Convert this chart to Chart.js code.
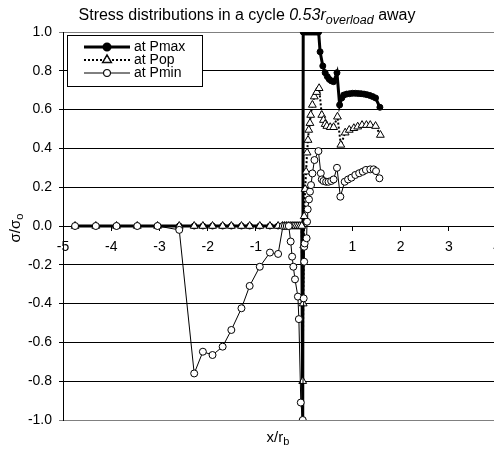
<!DOCTYPE html>
<html>
<head>
<meta charset="utf-8">
<script src="https://cdn.jsdelivr.net/npm/chart.js@4.4.0/dist/chart.umd.min.js"></script>
<style>
  html, body { margin: 0; padding: 0; background: #fff; overflow: hidden; }
  #wrap { width: 494px; height: 450px; overflow: hidden; }
</style>
</head>
<body>
<div id="wrap"><canvas id="chart" width="510" height="450"></canvas></div>
<script>
/* Stress distributions - sigma/sigma_o vs x/r_b */

const xTicks = [-5, -4, -3, -2, -1, 0, 1, 2, 3, 4];
const yTicks = [-1.0, -0.8, -0.6, -0.4, -0.2, 0.0, 0.2, 0.4, 0.6, 0.8, 1.0];

const zeroX = [-4.75, -4.32, -3.89, -3.46, -3.04, -2.59, -2.28, -2.10, -1.90, -1.69,
  -1.51, -1.30, -1.13, -0.92, -0.71, -0.54, -0.45, -0.41, -0.37, -0.33,
  -0.29, -0.25, -0.21, -0.17, -0.13, -0.09, -0.05];

// at Pmax
const pmaxX = zeroX.concat([-0.03, -0.02, 0.01, 0.04, 0.07, 0.10, 0.13, 0.16, 0.19, 0.22, 0.25, 0.28, 0.30,
  0.33, 0.386, 0.435, 0.48, 0.52, 0.565, 0.61, 0.68, 0.735, 0.78, 0.82, 0.88, 0.94, 1.00,
  1.06, 1.12, 1.18, 1.24, 1.30, 1.36, 1.42, 1.48, 1.57]);
const pmaxY = zeroX.map(() => 0).concat([-1.0, 1.0, 1.0, 1.0, 1.0, 1.0, 1.0, 1.0, 1.0, 1.0, 1.0, 1.0, 1.0,
  0.898, 0.825, 0.79, 0.77, 0.756, 0.748, 0.744, 0.79, 0.624, 0.66, 0.675, 0.68, 0.682, 0.684,
  0.684, 0.683, 0.682, 0.68, 0.677, 0.673, 0.667, 0.66, 0.612]);

// at Pop
const popX = zeroX.concat([-0.03, -0.02, -0.01, 0.0, 0.02, 0.04, 0.06, 0.08, 0.095, 0.12, 0.135, 0.17,
  0.21, 0.26, 0.31, 0.365, 0.40, 0.435, 0.47, 0.54, 0.61, 0.69, 0.76, 0.85, 0.935, 1.03,
  1.11, 1.20, 1.29, 1.37, 1.48, 1.58]);
const popY = zeroX.map(() => 0).concat([-0.8, -0.4, -0.1, 0.05, 0.19, 0.28, 0.378, 0.443, 0.495, 0.53, 0.572, 0.624,
  0.667, 0.69, 0.71, 0.572, 0.546, 0.525, 0.515, 0.509, 0.509, 0.563, 0.418, 0.481, 0.495, 0.504,
  0.512, 0.52, 0.52, 0.52, 0.515, 0.469]);

// at Pmin
const pminX = [-4.75, -4.32, -3.89, -3.46, -3.04, -2.59, -2.28, -2.10, -1.90, -1.69,
  -1.51, -1.30, -1.13, -0.92, -0.71, -0.54, -0.44, -0.40, -0.36, -0.32,
  -0.28, -0.25, -0.225, -0.19, -0.13, -0.11, -0.07, -0.03, -0.01, 0.0,
  0.0, 0.01, 0.05, 0.06, 0.073, 0.10, 0.12, 0.142, 0.171, 0.213,
  0.296, 0.345, 0.365, 0.40, 0.455, 0.505, 0.56, 0.61, 0.68, 0.75,
  0.84, 0.91, 0.98, 1.06, 1.14, 1.215, 1.28, 1.37, 1.44, 1.49, 1.56];
const pminY = [0, 0, 0, 0, 0, -0.02, -0.76, -0.648, -0.665, -0.622,
  -0.536, -0.424, -0.309, -0.21, -0.137, -0.144, 0, 0, 0, 0,
  -0.08, -0.158, -0.21, -0.275, -0.364, -0.48, -0.91, -1.0, -0.373, -0.184,
  -0.107, -0.09, -0.063, 0.022, 0.086, 0.137, 0.177, 0.211, 0.271, 0.34,
  0.386, 0.272, 0.24, 0.232, 0.228, 0.228, 0.232, 0.24, 0.30, 0.151,
  0.228, 0.24, 0.249, 0.263, 0.272, 0.28, 0.289, 0.292, 0.292, 0.283, 0.246];

const toPoints = (xs, ys) => xs.map((x, i) => ({ x, y: ys[i] }));

const FONT = '"Liberation Sans", Arial, sans-serif';

// Title with italic/subscript parts
const titlePlugin = {
  id: 'titulo',
  afterDraw(chart) {
    const ctx = chart.ctx;
    const parts = [
      { t: 'Stress distributions in a cycle ', f: '16px ' + FONT, dy: 0 },
      { t: '0.53r', f: 'italic 16px ' + FONT, dy: 0 },
      { t: 'overload', f: 'italic 12.5px ' + FONT, dy: 4 },
      { t: ' away', f: '16px ' + FONT, dy: 0 },
    ];
    ctx.save();
    ctx.fillStyle = '#000';
    ctx.textBaseline = 'alphabetic';
    let total = 0;
    parts.forEach((p) => { ctx.font = p.f; p.w = ctx.measureText(p.t).width; total += p.w; });
    let x = 247 - total / 2;
    parts.forEach((p) => { ctx.font = p.f; ctx.fillText(p.t, x, 20 + p.dy); x += p.w; });

    // x axis title
    ctx.font = '15px ' + FONT;
    const w1 = ctx.measureText('x/r').width;
    ctx.font = '11px ' + FONT;
    const w2 = ctx.measureText('b').width;
    const xx = 278 - (w1 + w2) / 2;
    ctx.font = '15px ' + FONT;
    ctx.fillText('x/r', xx, 442);
    ctx.font = '11px ' + FONT;
    ctx.fillText('b', xx + w1, 445);

    // y axis title
    ctx.translate(20, 228);
    ctx.rotate(-Math.PI / 2);
    ctx.font = '15px ' + FONT;
    const w3 = ctx.measureText('σ/σ').width;
    ctx.font = '11px ' + FONT;
    const w4 = ctx.measureText('o').width;
    const sx = -(w3 + w4) / 2;
    ctx.font = '15px ' + FONT;
    ctx.fillText('σ/σ', sx, 0);
    ctx.font = '11px ' + FONT;
    ctx.fillText('o', sx + w3, 3);
    ctx.restore();
  },
};

// Legend box inside the plot area
const legendPlugin = {
  id: 'leyenda',
  afterDraw(chart) {
    const ctx = chart.ctx;
    ctx.save();
    ctx.fillStyle = '#fff';
    ctx.fillRect(67.5, 35.5, 135, 51);
    ctx.strokeStyle = '#000';
    ctx.lineWidth = 1;
    ctx.strokeRect(67.5, 35.5, 135, 51);
    const rows = [47, 60, 73];
    chart.data.datasets.forEach((ds, i) => {
      const y = rows[i];
      ctx.strokeStyle = ds.borderColor;
      ctx.lineWidth = ds.borderWidth;
      ctx.setLineDash(ds.borderDash || []);
      ctx.beginPath();
      ctx.moveTo(84, y);
      ctx.lineTo(130, y);
      ctx.stroke();
      ctx.setLineDash([]);
      Chart.helpers.drawPoint(ctx, {
        pointStyle: ds.pointStyle,
        radius: ds.pointRadius,
        borderWidth: ds.pointBorderWidth,
      }, 107, y);
      ctx.fillStyle = ds.pointBackgroundColor;
      ctx.strokeStyle = ds.pointBorderColor;
      ctx.lineWidth = ds.pointBorderWidth;
      ctx.fill();
      ctx.stroke();
      ctx.fillStyle = '#000';
      ctx.font = '14px ' + FONT;
      ctx.textBaseline = 'middle';
      ctx.fillText(ds.label, 134, y);
    });
    ctx.restore();
  },
};

new Chart(document.getElementById('chart'), {
  type: 'scatter',
  data: {
    datasets: [
      {
        label: 'at Pmax',
        data: toPoints(pmaxX, pmaxY),
        showLine: true,
        borderColor: '#000',
        borderWidth: 3,
        pointStyle: 'circle',
        pointRadius: 3,
        pointBackgroundColor: '#000',
        pointBorderColor: '#000',
        pointBorderWidth: 1,
        order: 3,
      },
      {
        label: 'at Pop',
        data: toPoints(popX, popY),
        showLine: true,
        borderColor: '#000',
        borderWidth: 2,
        borderDash: [2, 2],
        pointStyle: 'triangle',
        pointRadius: 4.5,
        pointBackgroundColor: '#fff',
        pointBorderColor: '#000',
        pointBorderWidth: 1,
        order: 2,
      },
      {
        label: 'at Pmin',
        data: toPoints(pminX, pminY),
        showLine: true,
        borderColor: '#000',
        borderWidth: 1,
        pointStyle: 'circle',
        pointRadius: 3.5,
        pointBackgroundColor: '#fff',
        pointBorderColor: '#000',
        pointBorderWidth: 1,
        order: 1,
      },
    ],
  },
  options: {
    responsive: false,
    animation: false,
    layout: { padding: { top: 32, bottom: 30, left: 0, right: 0 } },
    plugins: {
      legend: { display: false },
      tooltip: { enabled: false },
      title: { display: false },
    },
    scales: {
      x: {
        type: 'linear',
        position: { y: 0 },
        min: -5,
        max: 4,
        afterBuildTicks: (scale) => { scale.ticks = xTicks.map((v) => ({ value: v })); },
        ticks: {
          color: '#000',
          font: { family: FONT, size: 14 },
          padding: 9,
          maxRotation: 0,
          callback: (v) => (v === 0 ? '' : String(v)),
        },
        grid: { drawOnChartArea: false, drawTicks: true, tickLength: 4, color: '#000' },
        border: { color: '#000', width: 1 },
      },
      y: {
        type: 'linear',
        min: -1,
        max: 1,
        afterBuildTicks: (scale) => { scale.ticks = yTicks.map((v) => ({ value: v })); },
        afterFit: (scale) => { scale.width = 63; },
        ticks: {
          color: '#000',
          font: { family: FONT, size: 14 },
          padding: 7,
          callback: (v) => (Math.abs(v) < 1e-9 ? '0.0' : v.toFixed(1)),
        },
        grid: {
          drawTicks: true,
          tickLength: 4,
          color: (c) => (c.tick && Math.abs(Math.abs(c.tick.value) - 1) < 1e-9 ? '#808080' : '#000'),
        },
        border: { color: '#000', width: 1 },
      },
    },
  },
  plugins: [titlePlugin, legendPlugin],
});
</script>
</body>
</html>
